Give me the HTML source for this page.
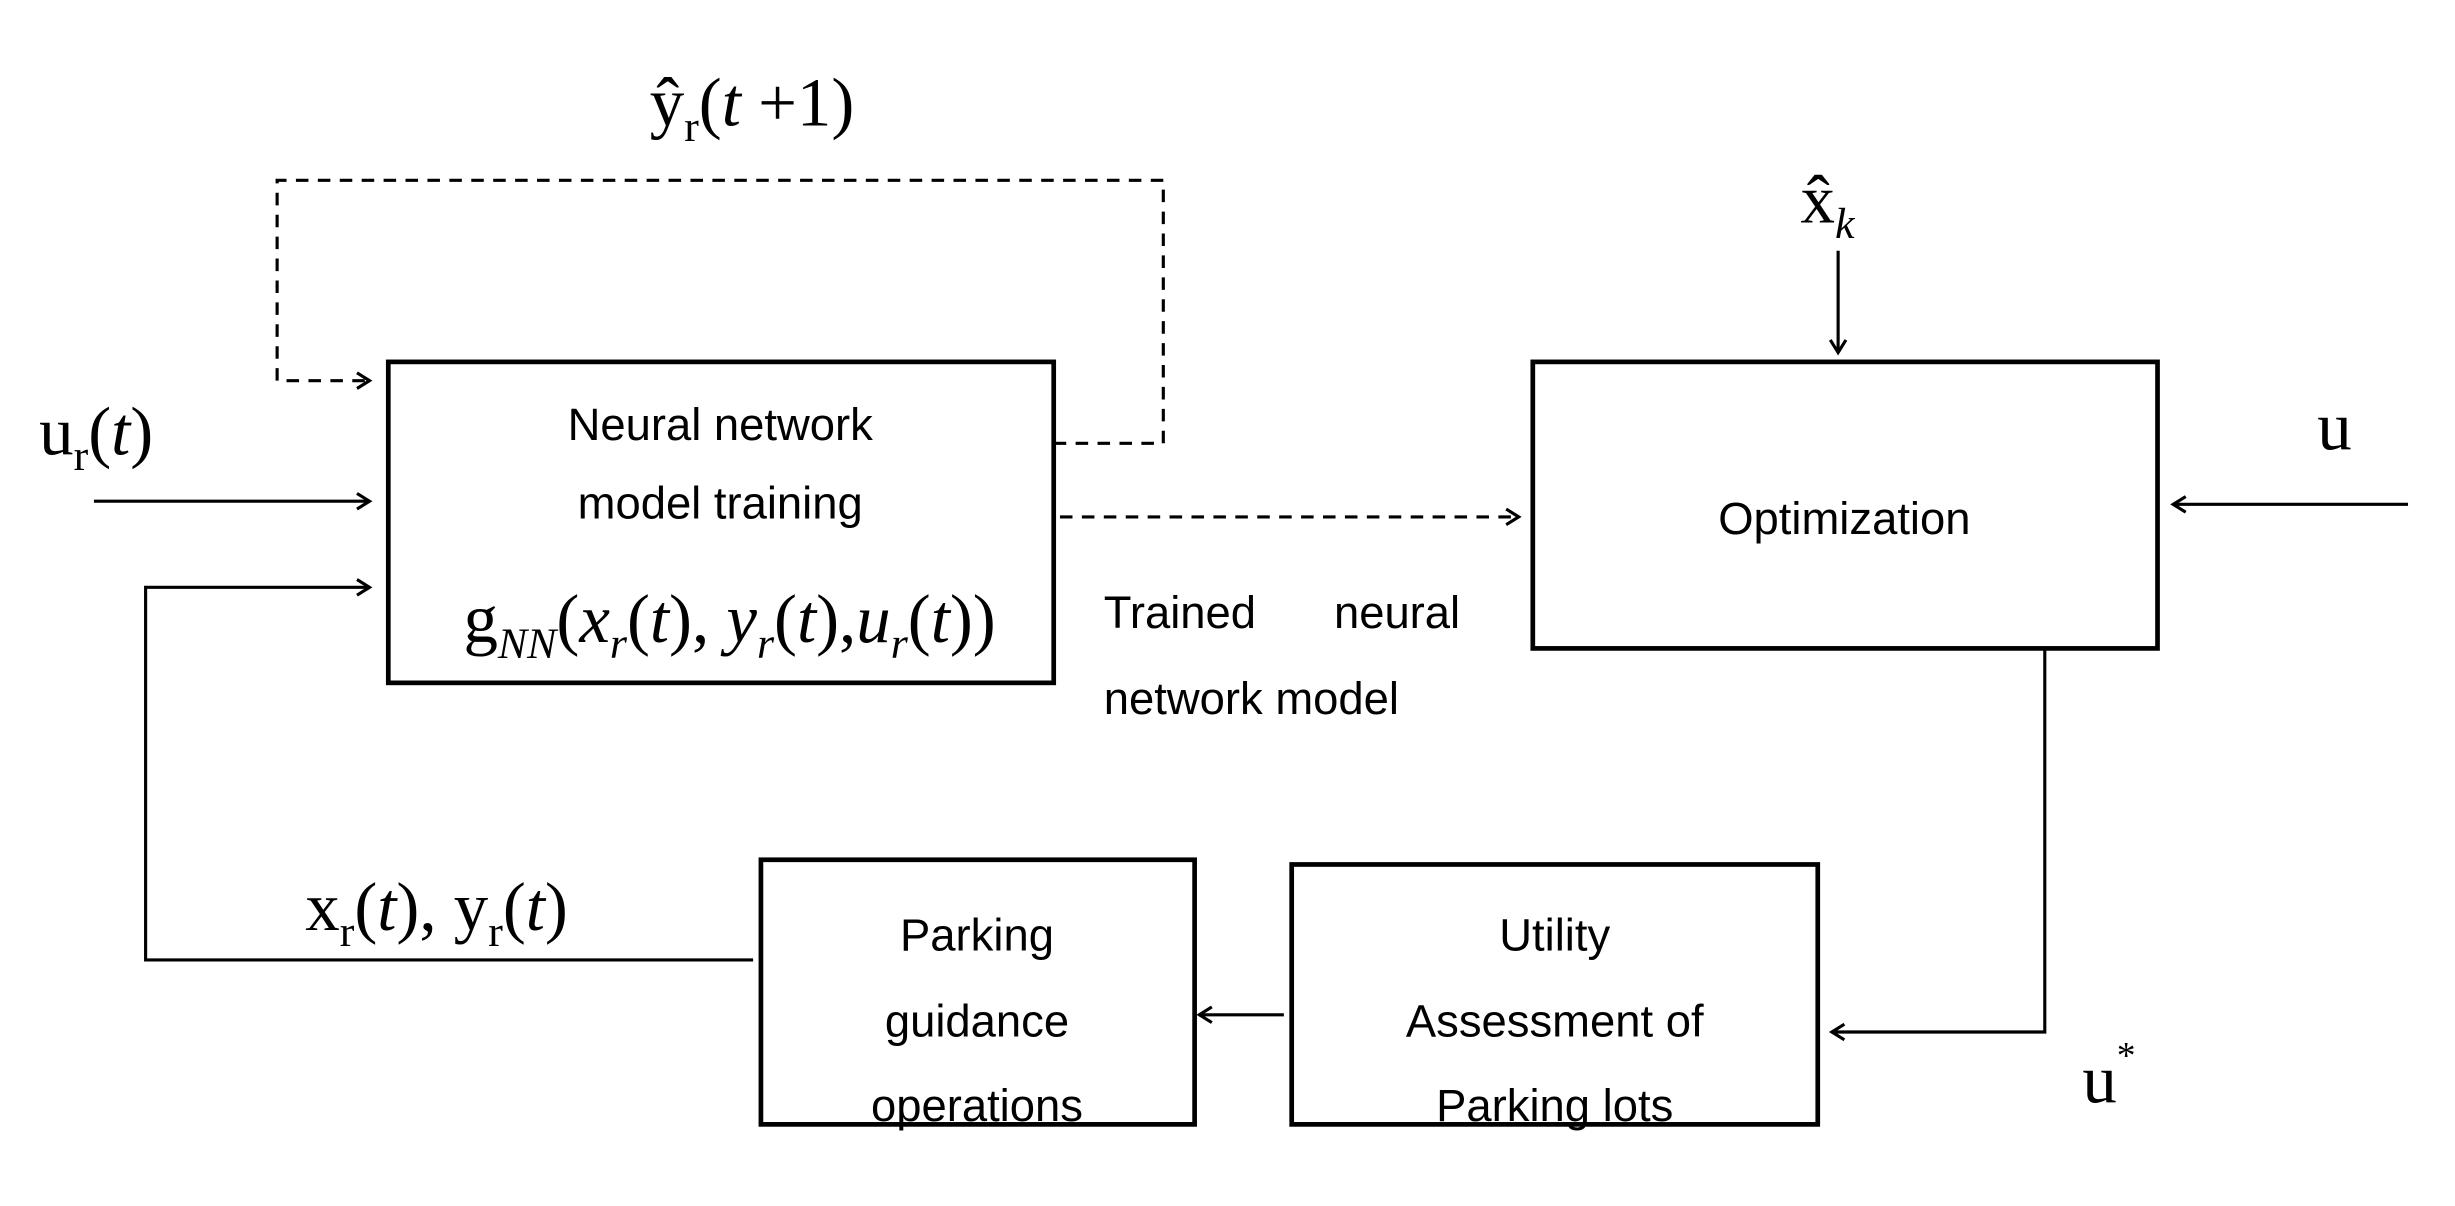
<!DOCTYPE html>
<html><head><meta charset="utf-8"><style>
html,body{margin:0;padding:0;background:#fff;}
svg{display:block;}
.t{font-family:"Liberation Sans",sans-serif;font-size:29px;fill:#000;}
.m{font-family:"Liberation Serif",serif;font-size:44px;fill:#000;}
</style></head><body>
<svg width="2455" height="1206" viewBox="0 0 1568 770" xmlns="http://www.w3.org/2000/svg">
<defs>
<marker id="a" markerWidth="12" markerHeight="12" refX="10" refY="6" orient="auto" markerUnits="userSpaceOnUse">
<path d="M2,1 L10,6 L2,11" fill="none" stroke="#000" stroke-width="2"/>
</marker>
</defs>
<g fill="none" stroke="#000">
<rect x="248" y="231" width="425" height="205" stroke-width="3"/>
<rect x="979" y="231" width="399" height="183" stroke-width="3"/>
<rect x="486" y="549" width="277" height="169" stroke-width="3"/>
<rect x="825" y="552" width="336" height="166" stroke-width="3"/>
<path d="M673,283 H743 V115 H177 V243 H236" stroke-width="2" stroke-dasharray="8,6" marker-end="url(#a)"/>
<path d="M677,330 H970" stroke-width="2" stroke-dasharray="8,6" marker-end="url(#a)"/>
<path d="M60,320 H236" stroke-width="2" marker-end="url(#a)"/>
<path d="M481,613 H93 V375 H236" stroke-width="2" marker-end="url(#a)"/>
<path d="M1174,160 V225" stroke-width="2" marker-end="url(#a)"/>
<path d="M1538,322 H1388" stroke-width="2" marker-end="url(#a)"/>
<path d="M1306,414 V659 H1170" stroke-width="2" marker-end="url(#a)"/>
<path d="M820,648 H766" stroke-width="2" marker-end="url(#a)"/>
</g>
<text class="t" x="460" y="281" text-anchor="middle">Neural network</text>
<text class="t" x="460" y="331" text-anchor="middle">model training</text>
<text class="m" x="466" y="410" text-anchor="middle">g<tspan font-size="28" font-style="italic" dy="10">NN</tspan><tspan dy="-10">(</tspan><tspan font-style="italic">x</tspan><tspan font-size="28" font-style="italic" dy="10">r</tspan><tspan dy="-10">(</tspan><tspan font-style="italic">t</tspan>), <tspan font-style="italic">y</tspan><tspan font-size="28" font-style="italic" dy="10">r</tspan><tspan dy="-10">(</tspan><tspan font-style="italic">t</tspan>),<tspan font-style="italic">u</tspan><tspan font-size="28" font-style="italic" dy="10">r</tspan><tspan dy="-10">(</tspan><tspan font-style="italic">t</tspan>))</text>
<text class="t" x="1178" y="341" text-anchor="middle">Optimization</text>
<text class="t" x="624" y="607" text-anchor="middle">Parking</text>
<text class="t" x="624" y="662" text-anchor="middle">guidance</text>
<text class="t" x="624" y="716" text-anchor="middle">operations</text>
<text class="t" x="993" y="607" text-anchor="middle">Utility</text>
<text class="t" x="993" y="662" text-anchor="middle">Assessment of</text>
<text class="t" x="993" y="716" text-anchor="middle">Parking lots</text>
<text class="t" x="705" y="401">Trained</text>
<text class="t" x="852" y="401">neural</text>
<text class="t" x="705" y="456">network model</text>
<text class="m" x="415" y="80">ŷ<tspan font-size="28" dy="10">r</tspan><tspan dy="-10">(</tspan><tspan font-style="italic">t</tspan> +1)</text>
<text class="m" x="25" y="290">u<tspan font-size="28" dy="10">r</tspan><tspan dy="-10">(</tspan><tspan font-style="italic">t</tspan>)</text>
<text class="m" x="1150" y="142">x̂<tspan font-size="28" font-style="italic" dy="10">k</tspan></text>
<text class="m" x="1480" y="287">u</text>
<text class="m" x="195" y="594">x<tspan font-size="28" dy="10">r</tspan><tspan dy="-10">(</tspan><tspan font-style="italic">t</tspan>), y<tspan font-size="28" dy="10">r</tspan><tspan dy="-10">(</tspan><tspan font-style="italic">t</tspan>)</text>
<text class="m" x="1330" y="704">u<tspan font-size="24" dy="-22">*</tspan></text>
</svg>
</body></html>
